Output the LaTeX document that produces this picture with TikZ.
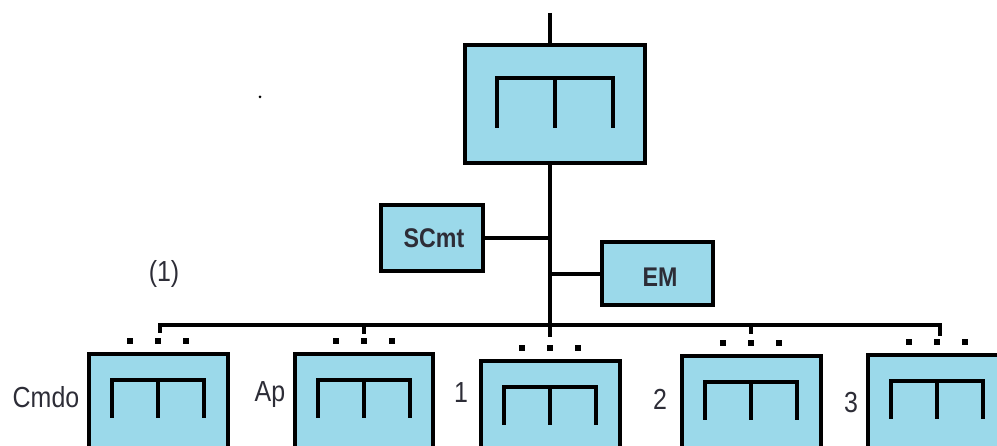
\documentclass[tikz,border=0pt]{standalone}
\usepackage{fontspec}
\setmainfont{Liberation Sans}
\newfontfamily\narrowsans[FakeStretch=0.86]{Liberation Sans}
\definecolor{boxblue}{RGB}{155,217,234}
\definecolor{textgray}{RGB}{45,45,55}

\tikzset{
    unit/.style={draw, line width=4pt, fill=boxblue, inner sep=0pt},
    tag/.style={text=textgray, font=\narrowsans\fontsize{27}{30}\selectfont\bfseries, inner sep=0pt},
    lbl/.style={text=textgray, font=\narrowsans\fontsize{29}{32}\selectfont, inner sep=0pt, anchor=base},
    wire/.style={line width=4pt},
    port/.style={fill=black, minimum size=5.5pt, inner sep=0pt},
    pics/rack/.style args={#1/#2}{code={
        \draw[line width=4pt] (-#1,#2) -- (-#1,0) -- (#1,0) -- (#1,#2) (0,0) -- (0,#2);
    }}
}

\begin{document}
\begin{tikzpicture}[x=1pt, y=-1pt]

            \useasboundingbox (0,0) rectangle (997,446);
            \clip (0,0) rectangle (997,446);

            % main unit and the two side units
            \node[unit, minimum width=180pt, minimum height=118pt] (top) at (555,104) {};
            \node[unit, minimum width=102pt, minimum height=66pt] (scmt) at (432,238) {};
            \node[unit, minimum width=111pt, minimum height=63pt] (em) at (657,274) {};
            \node[tag, anchor=base] at (434,248) {SCmt};
            \node[tag, anchor=base] at (660,287) {EM};

            % lower row
            \node[unit, minimum width=139pt, minimum height=110pt] (cmdo) at (158,409) {};
            \node[unit, minimum width=138pt, minimum height=110pt] (ap) at (364,409) {};
            \node[unit, minimum width=139pt, minimum height=110pt] (u1) at (550,416) {};
            \node[unit, minimum width=139pt, minimum height=110pt] (u2) at (751,411) {};
            \node[unit, minimum width=139pt, minimum height=110pt] (u3) at (937,410) {};

            \pic[shift={(0,35)}] at (top.north) {rack=58/50};
            \foreach \u in {cmdo,ap,u1,u2,u3} {
                \pic[shift={(0,28)}] at (\u.north) {rack=46/38};
                \foreach \dx in {-28,0,28}
                    \node[port] at ([xshift=\dx pt, yshift=11pt]\u.north) {};
            }

            % trunk and bus
            \coordinate (feed) at (550,13);
            \coordinate (bus) at (550,325);
            \draw[wire] (feed) -- (feed |- top.north);
            \draw[wire] (feed |- top.south) -- (bus) -- ++(0,12);
            \draw[wire] (scmt.east) -- (feed |- scmt.east);
            \draw[wire] (em.west) -- (feed |- em.west);
            \draw[wire] (cmdo.north |- bus) ++(2,8) -- ++(0,-8) -- (u3.north |- bus) -- ++(3,0) -- ++(0,11);
            \draw[wire] (ap.north |- bus) -- ++(0,9);
            \draw[wire] (u2.north |- bus) -- ++(0,9);

            \node[lbl] (cmdolbl) at (46,408) {Cmdo};
            \node[lbl] (aplbl) at (270,402) {Ap};
            \node[lbl] (u1lbl) at (461,403) {1};
            \node[lbl] (u2lbl) at (660,410) {2};
            \node[lbl] (u3lbl) at (851,413) {3};
            \node[lbl] (grp) at (164,282) {(1)};

            \fill (260,97) circle (1.5);

\end{tikzpicture}
\end{document}
